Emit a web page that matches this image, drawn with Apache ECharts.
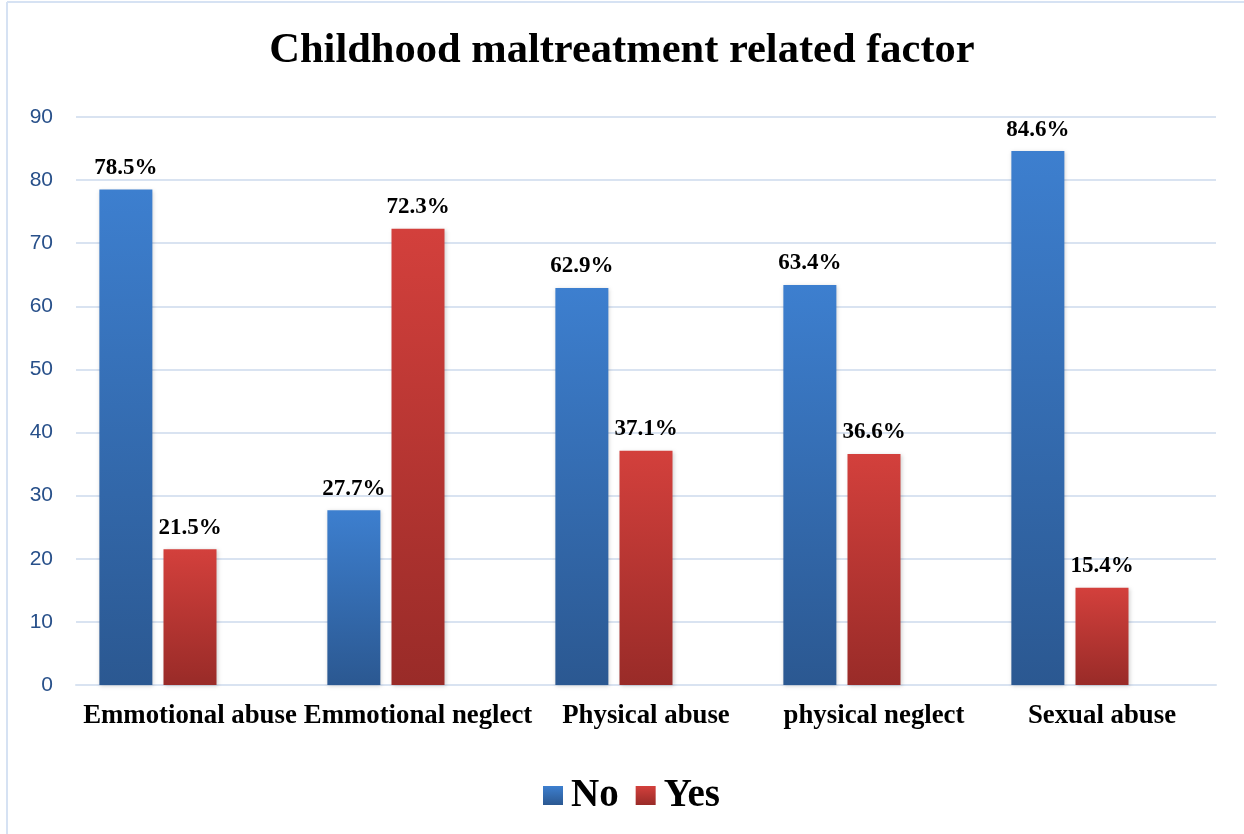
<!DOCTYPE html>
<html><head><meta charset="utf-8">
<script src="https://cdn.jsdelivr.net/npm/echarts@6/dist/echarts.min.js"></script>
<style>html,body{margin:0;padding:0;background:#fff}#c{width:1244px;height:834px}</style>
</head><body><div id="c"></div>
<script>
const categories = ['Emmotional abuse','Emmotional neglect','Physical abuse','physical neglect','Sexual abuse'];
const noValues = [78.5, 27.7, 62.9, 63.4, 84.6];
const yesValues = [21.5, 72.3, 37.1, 36.6, 15.4];
const spacerValues = [null, null, null, null, null];
const yTicks = {min: 0, max: 90, interval: 10};

const serif = '"Liberation Serif", "Times New Roman", serif';
const grad = (a, b) => new echarts.graphic.LinearGradient(0, 0, 0, 1, [{offset: 0, color: a}, {offset: 1, color: b}]);
const blue = grad('#3d7fcf', '#2b5891');
const red = grad('#d3403c', '#992b28');
const lbl = {show: true, position: 'top', distance: 10, color: '#000', fontFamily: serif, fontWeight: 'bold', fontSize: 23, formatter: p => p.value.toFixed(1) + '%'};

const chart = echarts.init(document.getElementById('c'), null, {renderer: 'canvas'});
chart.setOption({
  animation: false,
  backgroundColor: '#fff',
  title: {text: 'Childhood maltreatment related factor', left: 'center', top: 25,
    textStyle: {fontFamily: serif, fontWeight: 'bold', fontSize: 42.5, color: '#000'}},
  graphic: [
    {type: 'line', shape: {x1: 7, y1: 2, x2: 1244, y2: 2}, style: {stroke: '#d6e2f3', lineWidth: 2}},
    {type: 'line', shape: {x1: 7, y1: 2, x2: 7, y2: 834}, style: {stroke: '#d6e2f3', lineWidth: 2}}
  ],
  legend: {data: ['No', 'Yes'], bottom: 14, left: 538, itemWidth: 20, itemHeight: 19, itemGap: 17,
    icon: 'rect', textStyle: {fontFamily: serif, fontWeight: 'bold', fontSize: 39, color: '#000', padding: [0, 0, 0, 3]}},
  grid: {left: 76, right: 28, top: 117, bottom: 149, containLabel: false},
  xAxis: {type: 'category', data: categories,
    axisLine: {lineStyle: {color: '#d9e3f1', width: 2}}, axisTick: {show: false},
    axisLabel: {interval: 0, margin: 18, color: '#000', fontFamily: serif, fontWeight: 'bold', fontSize: 26.8}},
  yAxis: {type: 'value', min: yTicks.min, max: yTicks.max, interval: yTicks.interval,
    axisLine: {show: false}, axisTick: {show: false},
    axisLabel: {margin: 23, color: '#28508a', fontFamily: '"Liberation Sans", Arial, sans-serif', fontSize: 21},
    splitLine: {lineStyle: {color: '#d9e3f1', width: 2}}},
  series: [
    {name: 'No', type: 'bar', data: noValues, barWidth: 53, barGap: '21%', itemStyle: {color: blue, shadowColor: 'rgba(0,0,0,0.18)', shadowBlur: 4, shadowOffsetX: 1, shadowOffsetY: 1}, label: lbl},
    {name: 'Yes', type: 'bar', data: yesValues, barWidth: 53, barGap: '21%', itemStyle: {color: red, shadowColor: 'rgba(0,0,0,0.18)', shadowBlur: 4, shadowOffsetX: 1, shadowOffsetY: 1}, label: lbl},
    {name: 'spacer', type: 'bar', data: spacerValues, barWidth: 53, barGap: '21%', silent: true}
  ]
});
</script></body></html>
